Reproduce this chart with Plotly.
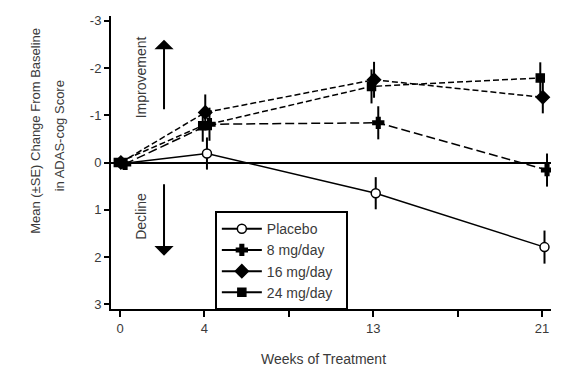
import plotly.graph_objects as go

# ---- data ----
weeks = [0, 4, 13, 21]
week_slot = [0, 1, 3, 5]          # evenly spaced tick slots used by the original axis
tick_slots = [0, 1, 2, 3, 4, 5]
tick_labels = ["0", "4", "", "13", "", "21"]

placebo = [0.02, -0.19, 0.65, 1.79]
placebo_se = [0.0, 0.34, 0.34, 0.35]
mg8 = [0.03, -0.81, -0.84, 0.16]
mg8_se = [0.0, 0.35, 0.35, 0.35]
mg16 = [0.0, -1.06, -1.75, -1.38]
mg16_se = [0.0, 0.38, 0.38, 0.34]
mg24 = [0.0, -0.78, -1.61, -1.79]
mg24_se = [0.0, 0.34, 0.36, 0.33]

y_ticks = [-3, -2, -1, 0, 1, 2, 3]
y_tick_labels = ["-3", "-2", "-1", "0", "1", "2", "3"]

FONT = "Liberation Sans, Arial, sans-serif"
TXT = "#3a3a3a"

series = [
    ("Placebo", placebo, placebo_se, 0.03, "circle", 9, "white", "solid"),
    ("8 mg/day", mg8, mg8_se, 0.06, "cross", 9, "black", "9px,4px"),
    ("16 mg/day", mg16, mg16_se, 0.01, "diamond", 10, "black", "6px,3px"),
    ("24 mg/day", mg24, mg24_se, -0.02, "square", 8, "black", "6px,3px"),
]

fig = go.Figure()
for name, vals, se, off, sym, size, fill, dash in series:
    fig.add_trace(go.Scatter(
        x=[s + off for s in week_slot], y=vals, name=name, showlegend=False,
        mode="lines+markers",
        line=dict(color="black", width=1.5, dash=dash),
        marker=dict(symbol=sym, size=size, color=fill,
                    line=dict(color="black", width=1.5)),
        error_y=dict(type="data", array=se, visible=True,
                     color="black", thickness=2, width=0),
    ))
# legend entries drawn with solid lines, as in the original key
for name, vals, se, off, sym, size, fill, dash in series:
    fig.add_trace(go.Scatter(
        x=[None], y=[None], name=name + "  ", mode="lines+markers",
        line=dict(color="black", width=2),
        marker=dict(symbol=sym, size=size, color=fill,
                    line=dict(color="black", width=1.5)),
    ))

# the page body has an 8px margin: shrink the figure so it fits the window
fig.update_layout(
    width=568, height=369,
    margin=dict(l=103, r=25, t=5, b=68),
    paper_bgcolor="white", plot_bgcolor="white",
    font=dict(family=FONT, size=13, color=TXT),
    showlegend=True,
    legend=dict(x=0.236, y=0.334, xanchor="left", yanchor="top",
                bgcolor="white", bordercolor="black", borderwidth=2,
                font=dict(size=14, color=TXT), tracegroupgap=0,
                itemwidth=40),
)
fig.update_xaxes(
    range=[-0.107, 5.107], tickvals=tick_slots, ticktext=tick_labels,
    showline=True, linecolor="black", linewidth=2,
    ticks="outside", ticklen=6, tickwidth=2, tickcolor="black",
    showgrid=False, zeroline=False, tickfont=dict(size=13, color=TXT),
)
fig.update_yaxes(
    range=[3.1, -3.1], tickvals=y_ticks, ticktext=y_tick_labels,
    showline=True, linecolor="black", linewidth=2,
    ticks="outside", ticklen=5, tickwidth=2, tickcolor="black",
    showgrid=False, zeroline=True, zerolinecolor="black", zerolinewidth=1.5,
    tickfont=dict(size=13, color=TXT),
)

anns = [
    dict(x=-0.1705, y=0.608, text="Mean (±SE) Change From Baseline", textangle=-90,
         font=dict(size=13, color=TXT)),
    dict(x=-0.118, y=0.5895, text="in ADAS-cog Score", textangle=-90,
         font=dict(size=13, color=TXT)),
    dict(x=0.482, y=-0.169, text="Weeks of Treatment",
         font=dict(size=14, color=TXT)),
    dict(x=0.068, y=0.7905, text="Improvement", textangle=-90,
         font=dict(size=14, color=TXT)),
    dict(x=0.068, y=0.3176, text="Decline", textangle=-90,
         font=dict(size=14, color=TXT)),
]
for a in anns:
    a.update(xref="paper", yref="paper", showarrow=False,
             xanchor="center", yanchor="middle")
    fig.add_annotation(**a)

# arrows
fig.add_annotation(xref="paper", yref="paper", x=0.1205, y=0.919, ax=0, ay=71,
                   text="", showarrow=True, arrowhead=1, arrowsize=1.6,
                   arrowwidth=2, arrowcolor="black")
fig.add_annotation(xref="paper", yref="paper", x=0.1205, y=0.182, ax=0, ay=-73,
                   text="", showarrow=True, arrowhead=1, arrowsize=1.6,
                   arrowwidth=2, arrowcolor="black")

fig.write_html("out.html")
